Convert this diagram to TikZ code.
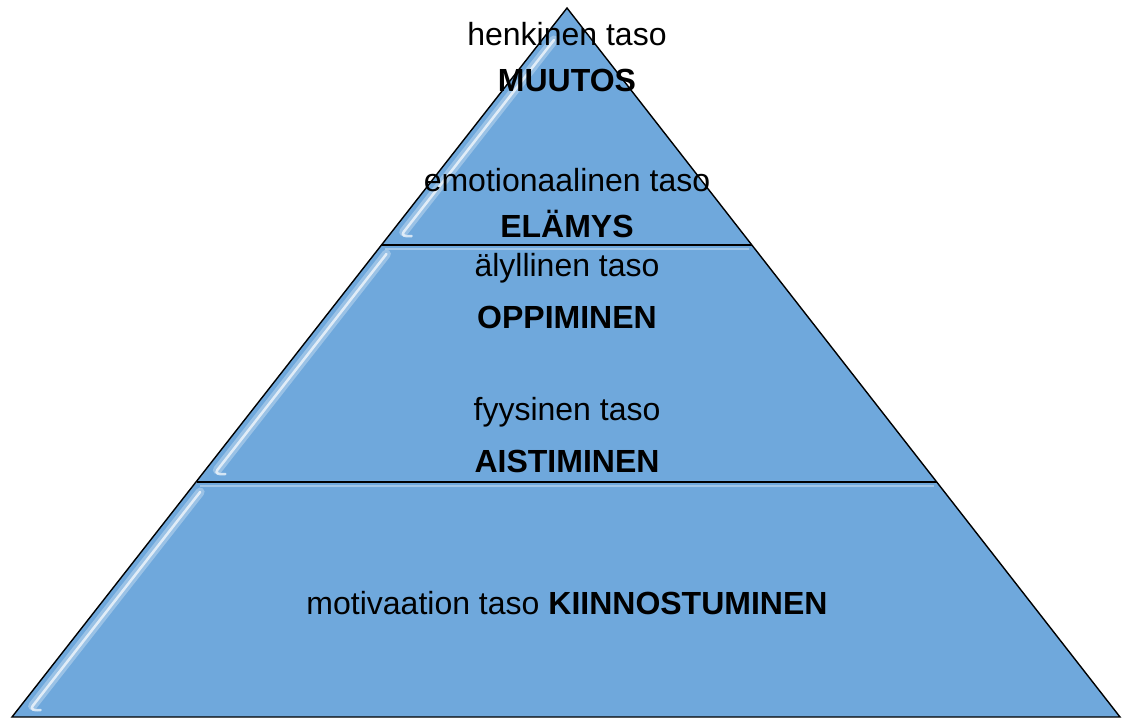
\documentclass[tikz,border=0pt]{standalone}
\usepackage{fontspec}
\setmainfont{Liberation Sans}
\usetikzlibrary{calc}
\definecolor{bandblue}{RGB}{111,168,220}
\tikzset{
  band/.style={fill=bandblue, draw=none},
  edge/.style={draw=black, line width=1.4pt, line join=miter},
  gloss/.style={draw=white, line width=2.5pt, opacity=0.7, line cap=round},
  glosswide/.style={draw=white, line width=9pt, opacity=0.3, line cap=round},
  rim/.style={draw=white, line width=2pt, opacity=0.35},
  lbl/.style={font=\fontsize{32}{36}\selectfont, anchor=center, inner sep=0pt},
  blbl/.style={lbl, font=\fontsize{32}{36}\selectfont\bfseries}
}
\begin{document}
\begin{tikzpicture}[x=1pt, y=-1pt]
\useasboundingbox (0,0) rectangle (1122,721);
\coordinate (A) at (567,8);
\coordinate (BL) at (12,717);
\coordinate (BR) at (1120,717);
\coordinate (L1) at (381.5,245);
\coordinate (R1) at (752,245);
\coordinate (L2) at (196.5,482);
\coordinate (R2) at (937,482);
% bands
\fill[band] (A) -- (R1) -- (L1) -- cycle;
\fill[band] (L1) -- (R1) -- (R2) -- (L2) -- cycle;
\fill[band] (L2) -- (R2) -- (BR) -- (BL) -- cycle;
% rims
\draw[rim] (L1) ++(3,4) -- ($(R1)+(-3,4)$);
\draw[rim] (L2) ++(3,4) -- ($(R2)+(-3,4)$);
% gloss highlights
\foreach \ya/\yb in {40/232, 254/470, 492/706}{
  \pgfmathsetmacro{\xa}{567-0.7828*(\ya-8)+12}
  \pgfmathsetmacro{\xb}{567-0.7828*(\yb-8)+12}
  \draw[glosswide] (\xa,\ya) -- (\xb,\yb);
  \draw[gloss] (\xa,\ya) -- (\xb,\yb) .. controls (\xb-2,\yb+3) and (\xb,\yb+5) .. (\xb+8,\yb+4);
}
% outline
\draw[edge] (A) -- (BR) -- (BL) -- cycle;
\draw[edge] (L1) -- (R1);
\draw[edge] (L2) -- (R2);
% labels
\node[lbl]  (t1) at (567,34)  {henkinen taso};
\node[blbl] (b1) at (567,80)  {MUUTOS};
\node[lbl]  (t2) at (567,180) {emotionaalinen taso};
\node[blbl] (b2) at (567,224) {ELÄMYS};
\node[lbl]  (t3) at (567,268) {älyllinen taso};
\node[blbl] (b3) at (567,317) {OPPIMINEN};
\node[lbl]  (t4) at (567,412) {fyysinen taso};
\node[blbl] (b4) at (567,461) {AISTIMINEN};
\node[lbl]  (t5) at (567,603) {motivaation taso \textbf{KIINNOSTUMINEN}};
\end{tikzpicture}
\end{document}
